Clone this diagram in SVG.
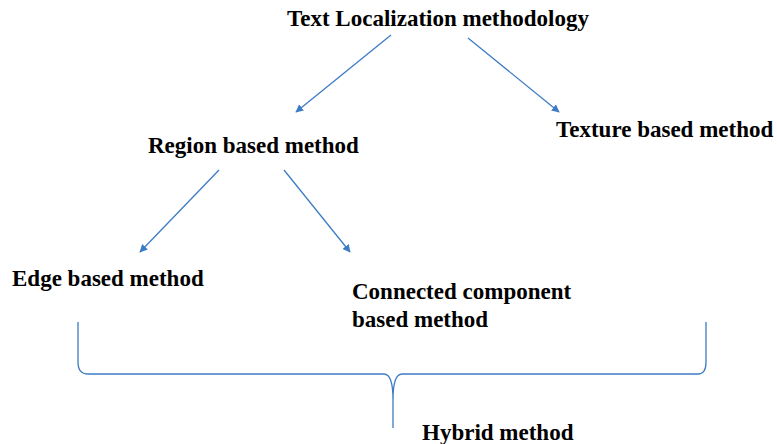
<svg xmlns="http://www.w3.org/2000/svg" width="777" height="444" viewBox="0 0 777 444">
<style>
text{font-family:"Liberation Serif","Times New Roman",serif;font-weight:bold;font-size:23px;fill:#000}
.c{stroke:#3d7cc4;stroke-width:1.3;fill:none}
</style>
<defs>
<marker id="ah" viewBox="0 0 10 10" refX="9" refY="5" markerWidth="8" markerHeight="8" markerUnits="userSpaceOnUse" orient="auto">
<path d="M0,0 L10,5 L0,10 z" fill="#3d7cc4"/>
</marker>
</defs>
<rect width="777" height="444" fill="#fff"/>
<g id="n-root"><text x="287" y="26">Text Localization methodology</text></g>
<g id="n-region"><text x="148" y="153">Region based method</text></g>
<g id="n-texture"><text x="556" y="137">Texture based method</text></g>
<g id="n-edge"><text x="12" y="286">Edge based method</text></g>
<g id="n-cc"><text x="352" y="299">Connected component</text><text x="352" y="327">based method</text></g>
<g id="n-hybrid"><text x="422" y="440">Hybrid method</text></g>
<g id="connectors">
<line class="c" x1="391" y1="35" x2="296" y2="112" marker-end="url(#ah)"/>
<line class="c" x1="468" y1="38" x2="559" y2="112" marker-end="url(#ah)"/>
<line class="c" x1="219" y1="170" x2="140" y2="252" marker-end="url(#ah)"/>
<line class="c" x1="284" y1="170" x2="350" y2="252" marker-end="url(#ah)"/>
<path class="c" d="M78,322 L78,362 Q78,374 88,374 L384,374 Q393,374 393,400 L393,428 M393,428 L393,400 Q393,374 402,374 L698,374 Q706,374 706,362 L706,322"/>
</g>
</svg>
